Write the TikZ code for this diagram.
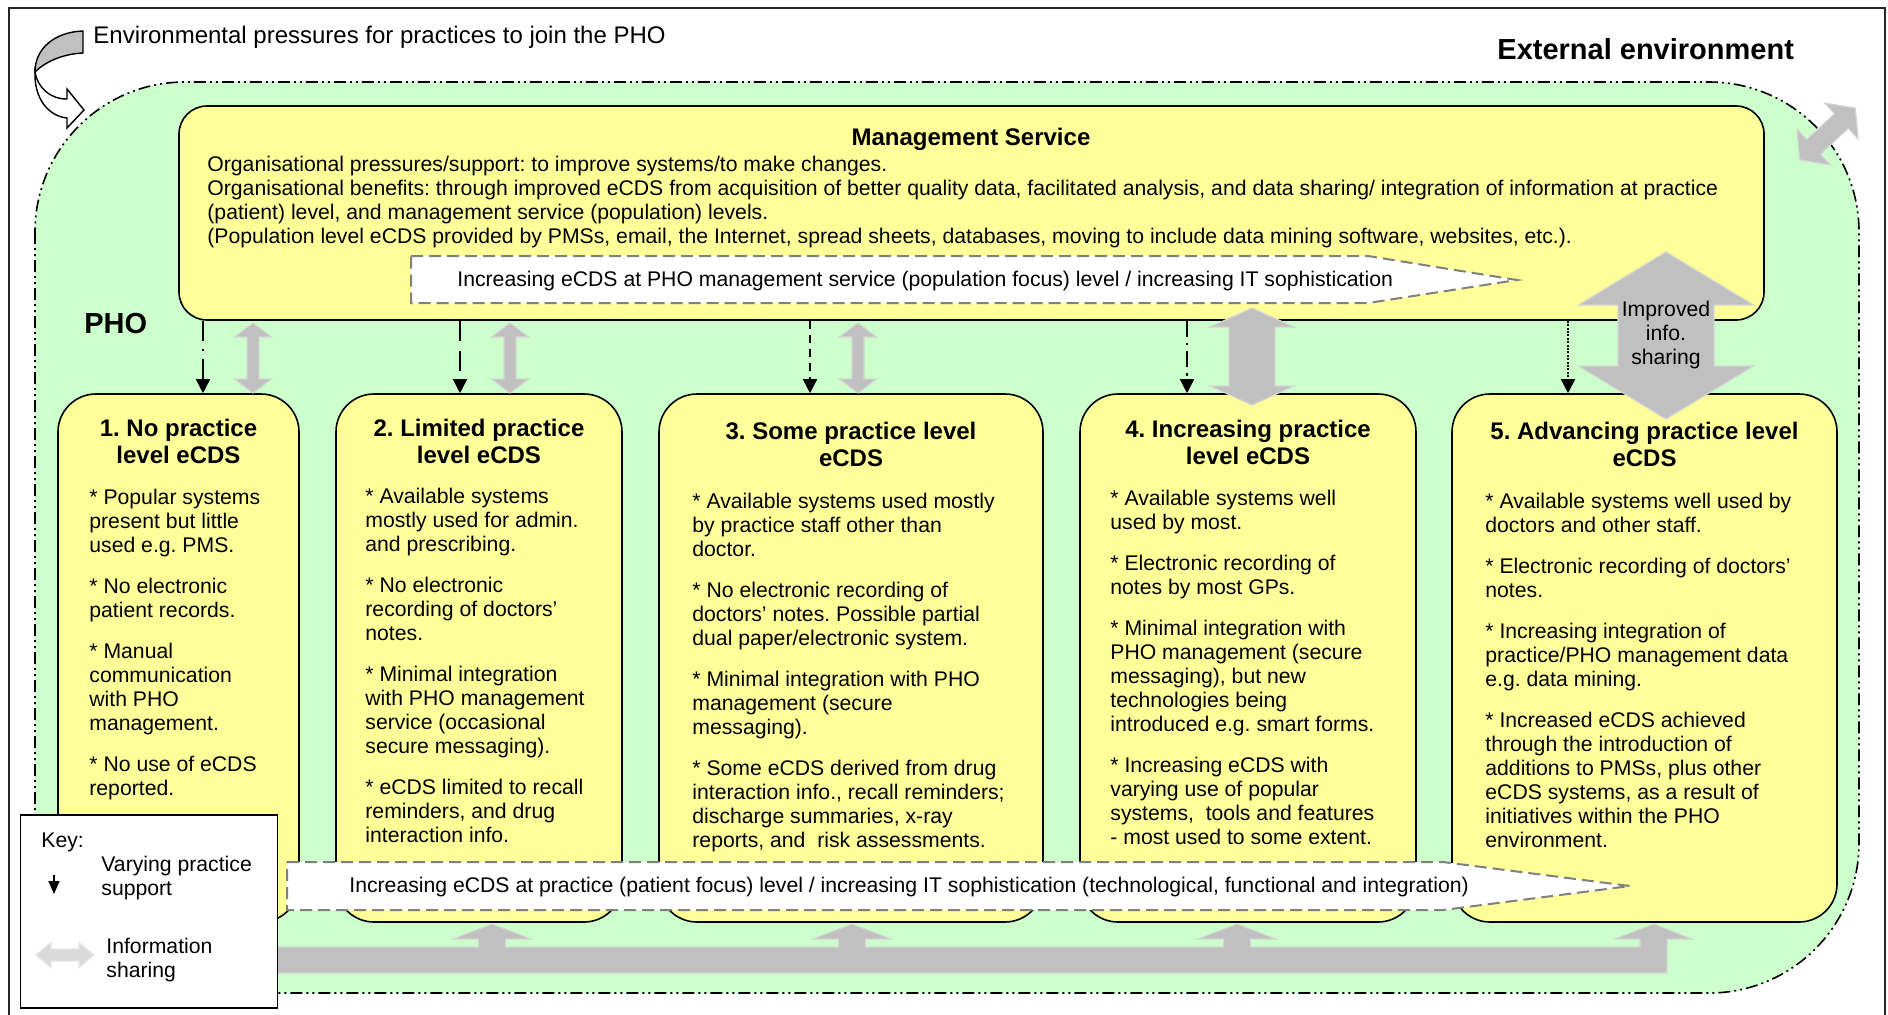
\documentclass[tikz,border=0pt]{standalone}
\usepackage{fontspec}
\setmainfont{Liberation Sans}
\usetikzlibrary{arrows.meta}
\frenchspacing
\definecolor{phogreen}{HTML}{CCFFCC}
\definecolor{boxyellow}{HTML}{FFFF99}
\definecolor{arrgray}{HTML}{C0C0C0}
\definecolor{arredge}{HTML}{D4D4D4}
\definecolor{keygray}{HTML}{DADADA}
\definecolor{keyedge}{HTML}{E6E6E6}
\definecolor{dashgray}{HTML}{808080}
\newcommand\bodyfont{\fontsize{10.6}{12}\selectfont}
\newcommand\titlefont{\fontsize{12}{13.7}\selectfont\bfseries}
\newcommand\gap{\\[8.5pt]}
% double-headed block arrow: cx cy length headwidth shaftwidth headlength angle style
\newcommand\dblarrow[8]{%
  \begin{scope}[shift={(#1,#2)},rotate=#7]
    \path[#8] ({-#3/2},0) -- ({-#3/2+#6},{#4/2}) -- ({-#3/2+#6},{#5/2}) --
      ({#3/2-#6},{#5/2}) -- ({#3/2-#6},{#4/2}) -- ({#3/2},0) --
      ({#3/2-#6},{-#4/2}) -- ({#3/2-#6},{-#5/2}) -- ({-#3/2+#6},{-#5/2}) --
      ({-#3/2+#6},{-#4/2}) -- cycle;
  \end{scope}}
\begin{document}
\begin{tikzpicture}[x=0.5pt,y=-0.5pt,
  ybox/.style={draw=black, line width=0.8pt, fill=boxyellow, rounded corners=19pt,
    inner sep=0pt, minimum height=264pt},
  garrow/.style={fill=arrgray, draw=arredge, line width=0.6pt},
  karrow/.style={fill=keygray, draw=keyedge, line width=0.6pt},
  support/.style={-{Triangle[length=7pt,width=7pt]}, line width=0.8pt},
  wdash/.style={draw=dashgray, fill=white, line width=1pt, dash pattern=on 6pt off 3pt},
  txt/.style={inner sep=0pt}
]
\useasboundingbox (0,0) rectangle (1888,1014);

% outer frame (external environment)
\draw[black!85, line width=0.8pt] (9,1016) -- (9,8) -- (1885,8) -- (1885,1016);

% curved arrow: environmental pressures
\draw[fill=arrgray, line width=0.7pt] (83,31) .. controls (55,32) and (35,48) .. (35,72)
  .. controls (45,62) and (62,54) .. (83,53) -- cycle;
\draw[fill=white, line width=0.7pt] (35,72) .. controls (38,88) and (50,99) .. (67,99)
  -- (67,89) -- (84,110) -- (67,128) -- (67,118)
  .. controls (48,116) and (34,98) .. (35,72) -- cycle;

% PHO region
\draw[fill=phogreen, line width=0.8pt, rounded corners=75pt,
  dash pattern=on 6pt off 2pt on 1pt off 2pt on 1pt off 2pt] (35,82) rectangle (1859,993);

% Management service box
\node[ybox, rounded corners=14pt, minimum width=792.5pt, minimum height=107pt] (ms) at (971.5,213) {};
\path[wdash] (411,256) -- (1368,256) -- (1517,280) -- (1368,303) -- (411,303) -- cycle;

% practice boxes
\node[ybox, minimum width=120.5pt] (b1) at (178.5,658) {};
\node[ybox, minimum width=143pt] (b2) at (479,658) {};
\node[ybox, minimum width=192pt] (b3) at (851,658) {};
\node[ybox, minimum width=168pt] (b4) at (1248,658) {};
\node[ybox, minimum width=192.5pt] (b5) at (1644.5,658) {};

% varying practice support arrows
\coordinate (a1) at (203,0);
\coordinate (a2) at (460,0);
\coordinate (a3) at (810,0);
\coordinate (a4) at (1187,0);
\coordinate (a5) at (1568,0);
\draw[support, dash pattern=on 10pt off 4pt on 1.2pt off 4pt] (ms.south -| a1) -- (b1.north -| a1);
\draw[support, dash pattern=on 10pt off 5pt] (ms.south -| a2) -- (b2.north -| a2);
\draw[support, dash pattern=on 4pt off 3pt] (ms.south -| a3) -- (b3.north -| a3);
\draw[support, dash pattern=on 8pt off 3pt on 1.2pt off 3pt] (ms.south -| a4) -- (b4.north -| a4);
\draw[support, dash pattern=on 1pt off 0.7pt] (ms.south -| a5) -- (b5.north -| a5);

% information sharing arrows
\dblarrow{253}{358}{70}{37}{12}{14}{90}{garrow}
\dblarrow{510}{358}{70}{37}{12}{14}{90}{garrow}
\dblarrow{858}{358}{70}{37}{12}{14}{90}{garrow}
\dblarrow{1252}{356.5}{97}{84}{46}{19}{90}{garrow}
\dblarrow{1666}{335.5}{167}{175}{96}{53}{90}{garrow}
\dblarrow{1827.5}{134}{76}{49}{20}{19}{43}{garrow}
\node[txt, anchor=base] (imp) at (1666,316) {\parbox[t]{70pt}{\centering\bodyfont Improved\\info.\\sharing}};

% practice level arrow
\path[wdash] (287,862) -- (1443,862) -- (1630,886) -- (1443,910) -- (287,910) -- cycle;

% bottom sharing bar with up arrows
\path[garrow] (240,973) -- (240,947)
  -- (478.5,947) -- (478.5,939) -- (453,939) -- (492,924) -- (531,939) -- (505.5,939) -- (505.5,947)
  -- (838.5,947) -- (838.5,939) -- (813,939) -- (852,924) -- (891,939) -- (865.5,939) -- (865.5,947)
  -- (1223.5,947) -- (1223.5,939) -- (1198,939) -- (1237,924) -- (1276,939) -- (1250.5,939) -- (1250.5,947)
  -- (1640,947) -- (1640,939) -- (1615,939) -- (1653.5,924) -- (1692,939) -- (1667,939) -- (1667,973) -- cycle;

% key
\node[draw=black, fill=white, line width=0.9pt, inner sep=0pt, minimum width=128.5pt,
  minimum height=96.5pt] (key) at (149,911.5) {};
\coordinate (k1) at (54,875);
\coordinate (k2) at (54,894);
\draw[-{Triangle[length=6.5pt,width=5.5pt]}, line width=0.8pt] (k1) -- (k2);
\dblarrow{65}{955}{58}{25}{12}{15}{0}{karrow}
\node[txt, anchor=base west] (keyt) at (41,847) {\bodyfont Key:};
\node[txt, anchor=base west] (keyv) at (101,871) {\parbox[t]{120pt}{\raggedright\bodyfont Varying practice\\support}};
\node[txt, anchor=base west] (keyi) at (106,953) {\parbox[t]{120pt}{\raggedright\bodyfont Information\\sharing}};

% top texts
\node[txt, anchor=base west] (env) at (93,43) {\fontsize{12}{14}\selectfont Environmental pressures for practices to join the PHO};
\node[txt, anchor=base west] (ext) at (1497,59) {\fontsize{14.5}{16}\selectfont\bfseries External environment};
\node[txt, anchor=base west] (pho) at (84,333) {\fontsize{14.5}{16}\selectfont\bfseries PHO};

% management service text
\node[txt, anchor=base] (mst) at (971,145) {\titlefont Management Service};
\node[txt, anchor=base west] (msb) at (207,171) {\parbox[t]{800pt}{\raggedright\bodyfont
Organisational pressures/support: to improve systems/to make changes.\\
Organisational benefits: through improved eCDS from acquisition of better quality data, facilitated analysis, and data sharing/ integration of information at practice\\
(patient) level, and management service (population) levels.\\
(Population level eCDS provided by PMSs, email, the Internet, spread sheets, databases, moving to include data mining software, websites, etc.).}};
\node[txt, anchor=base west] (msa) at (457,286) {\bodyfont Increasing eCDS at PHO management service (population focus) level / increasing IT sophistication};
\node[txt, anchor=base west] (pra) at (349,892) {\bodyfont Increasing eCDS at practice (patient focus) level / increasing IT sophistication (technological, functional and integration)};

% box titles
\node[txt, anchor=base] (t1) at (178.5,436) {\parbox[t]{200pt}{\centering\titlefont 1. No practice\\level eCDS}};
\node[txt, anchor=base] (t2) at (479,436) {\parbox[t]{200pt}{\centering\titlefont 2. Limited practice\\level eCDS}};
\node[txt, anchor=base] (t3) at (851,439) {\parbox[t]{200pt}{\centering\titlefont 3. Some practice level\\eCDS}};
\node[txt, anchor=base] (t4) at (1248,437) {\parbox[t]{200pt}{\centering\titlefont 4. Increasing practice\\level eCDS}};
\node[txt, anchor=base] (t5) at (1644.5,439) {\parbox[t]{200pt}{\centering\titlefont 5. Advancing practice level\\eCDS}};

% box texts
\node[txt, anchor=base west] (x1) at (89,504) {\parbox[t]{200pt}{\raggedright\bodyfont
* Popular systems\\present but little\\used e.g. PMS.\gap
* No electronic\\patient records.\gap
* Manual\\communication\\with PHO\\management.\gap
* No use of eCDS\\reported.}};
\node[txt, anchor=base west] (x2) at (365,503) {\parbox[t]{200pt}{\raggedright\bodyfont
* Available systems\\mostly used for admin.\\and prescribing.\gap
* No electronic\\recording of doctors’\\notes.\gap
* Minimal integration\\with PHO management\\service (occasional\\secure messaging).\gap
* eCDS limited to recall\\reminders, and drug\\interaction info.}};
\node[txt, anchor=base west] (x3) at (692,508) {\parbox[t]{220pt}{\raggedright\bodyfont
* Available systems used mostly\\by practice staff other than\\doctor.\gap
* No electronic recording of\\doctors’ notes. Possible partial\\dual paper/electronic system.\gap
* Minimal integration with PHO\\management (secure\\messaging).\gap
* Some eCDS derived from drug\\interaction info., recall reminders;\\discharge summaries, x-ray\\reports, and\ \ risk assessments.}};
\node[txt, anchor=base west] (x4) at (1110,505) {\parbox[t]{200pt}{\raggedright\bodyfont
* Available systems well\\used by most.\gap
* Electronic recording of\\notes by most GPs.\gap
* Minimal integration with\\PHO management (secure\\messaging), but new\\technologies being\\introduced e.g. smart forms.\gap
* Increasing eCDS with\\varying use of popular\\systems,\ \ tools and features\\- most used to some extent.}};
\node[txt, anchor=base west] (x5) at (1485,508) {\parbox[t]{220pt}{\raggedright\bodyfont
* Available systems well used by\\doctors and other staff.\gap
* Electronic recording of doctors’\\notes.\gap
* Increasing integration of\\practice/PHO management data\\e.g. data mining.\gap
* Increased eCDS achieved\\through the introduction of\\additions to PMSs, plus other\\eCDS systems, as a result of\\initiatives within the PHO\\environment.}};
\end{tikzpicture}
\end{document}
